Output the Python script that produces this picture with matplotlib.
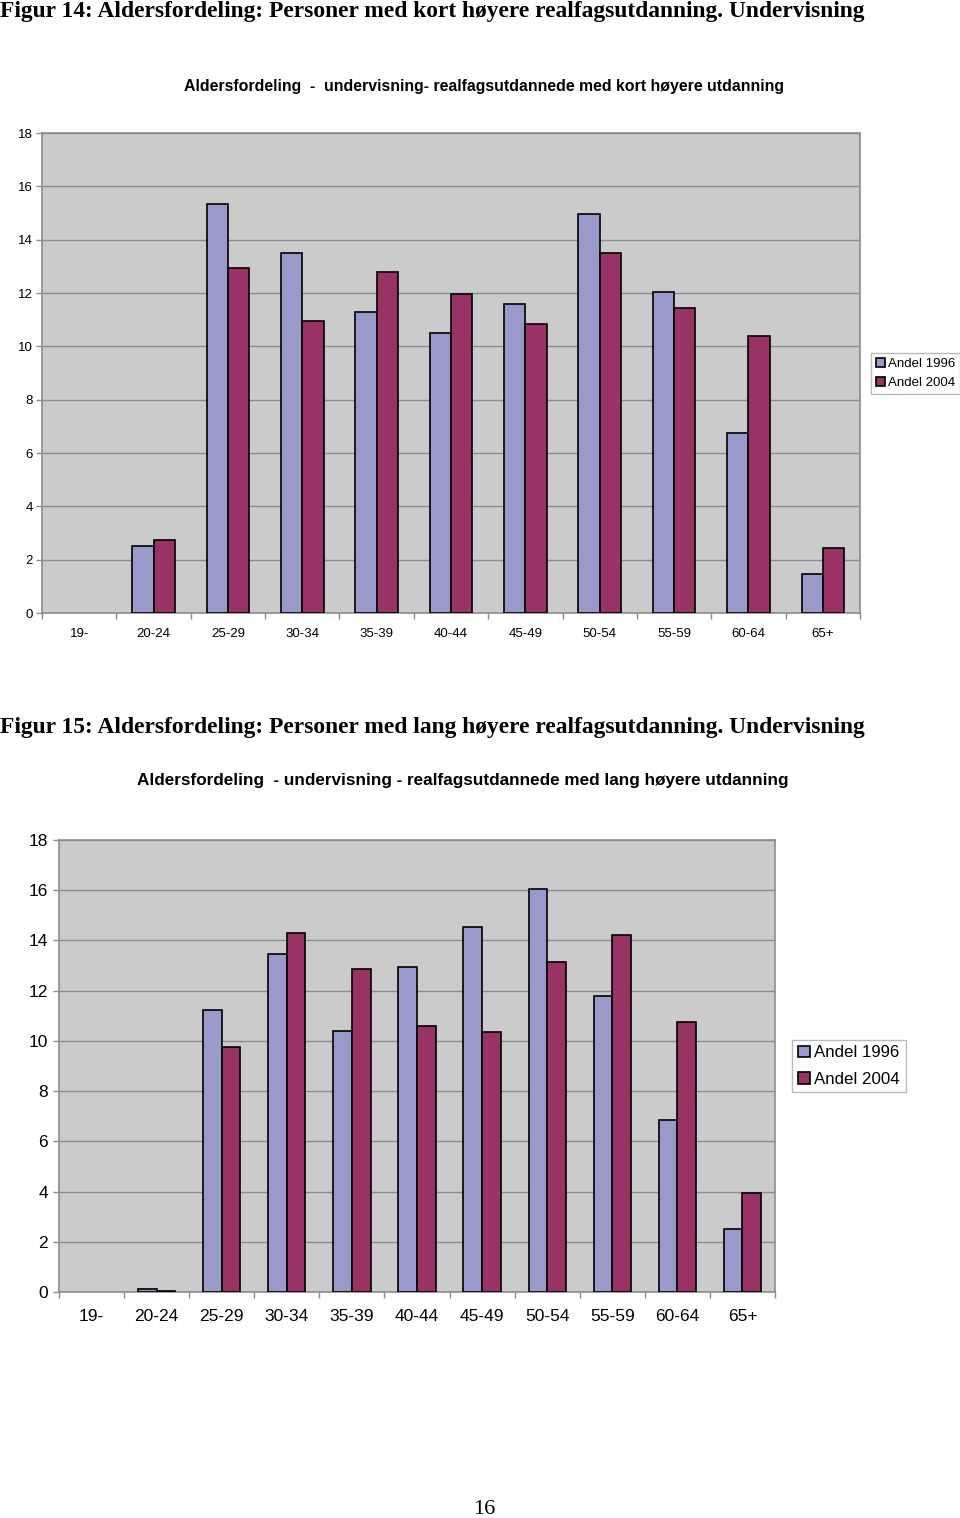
import matplotlib
matplotlib.use("Agg")
import matplotlib.pyplot as plt
from matplotlib.patches import Patch
import numpy as np

categories = ["19-", "20-24", "25-29", "30-34", "35-39", "40-44", "45-49", "50-54", "55-59", "60-64", "65+"]

kort_1996 = [0, 2.5, 15.35, 13.5, 11.3, 10.5, 11.6, 14.95, 12.05, 6.75, 1.45]
kort_2004 = [0, 2.75, 12.95, 10.95, 12.8, 11.95, 10.85, 13.5, 11.45, 10.4, 2.45]

lang_1996 = [0, 0.1, 11.25, 13.45, 10.4, 12.95, 14.55, 16.05, 11.8, 6.85, 2.5]
lang_2004 = [0, 0.05, 9.75, 14.3, 12.85, 10.6, 10.35, 13.15, 14.2, 10.75, 3.95]

series_labels = ["Andel 1996", "Andel 2004"]
yticks = [0, 2, 4, 6, 8, 10, 12, 14, 16, 18]

C1996 = "#9999CC"
C2004 = "#993366"
BG = "#CBCBCB"
GRID = "#8C8C8C"

W, H = 960, 1518
fig = plt.figure(figsize=(W / 100, H / 100), dpi=100)

SANS = "Liberation Sans"
SERIF = "Liberation Serif"


def fx(px):
    return px / W


def fy(py):
    return 1 - py / H


def draw_chart(rect, v1, v2, tick_fs, xpad, ypad, legend_anchor, legend_fs, lspace):
    ax = fig.add_axes(rect)
    x = np.arange(len(categories))
    bw = 1 / 3.5
    lw1 = [0 if v == 0 else 1.2 for v in v1]
    lw2 = [0 if v == 0 else 1.2 for v in v2]
    ax.bar(x - bw / 2, v1, width=bw, color=C1996, edgecolor="black", linewidth=lw1, zorder=3)
    ax.bar(x + bw / 2, v2, width=bw, color=C2004, edgecolor="black", linewidth=lw2, zorder=3)
    ax.set_xlim(-0.5, len(categories) - 0.5)
    ax.set_ylim(0, 18)
    ax.set_facecolor(BG)
    ax.set_yticks(yticks)
    ax.set_yticklabels([str(t) for t in yticks], fontsize=tick_fs, family=SANS)
    ax.yaxis.grid(True, color=GRID, linewidth=1.0, zorder=1)
    ax.set_axisbelow(True)
    ax.set_xticks(x)
    ax.set_xticklabels(categories, fontsize=tick_fs, family=SANS)
    ax.set_xticks(np.arange(-0.5, len(categories)), minor=True)
    ax.tick_params(axis="x", which="major", length=0, pad=xpad)
    ax.tick_params(axis="x", which="minor", length=4, color=GRID, width=1)
    ax.tick_params(axis="y", length=4, color=GRID, width=1, pad=ypad)
    for s in ax.spines.values():
        s.set_color(GRID)
        s.set_linewidth(1.2)
    handles = [Patch(facecolor=C1996, edgecolor="black", linewidth=1.2, label=series_labels[0]),
               Patch(facecolor=C2004, edgecolor="black", linewidth=1.2, label=series_labels[1])]
    leg = ax.legend(handles=handles, loc="center left", bbox_to_anchor=legend_anchor,
                    bbox_transform=fig.transFigure, fancybox=False,
                    edgecolor="#BBBBBB", framealpha=1, borderaxespad=0,
                    prop={"family": SANS, "size": legend_fs},
                    handlelength=0.7, handleheight=0.7, handletextpad=0.25,
                    borderpad=0.35, labelspacing=lspace)
    leg.get_frame().set_linewidth(1.0)
    return ax


# Chart 1
draw_chart([fx(42), fy(613), fx(860 - 42), (613 - 133) / H],
           kort_1996, kort_2004, 9.5, 10.5, 2.5, (fx(871), fy(373.5)), 9.5, 0.55)

# Chart 2
draw_chart([fx(59), fy(1292), fx(775 - 59), (1292 - 840) / H],
           lang_1996, lang_2004, 12.5, 12.5, 4, (fx(792), fy(1066)), 12.2, 0.65)

fig.text(0, fy(11), "Figur 14: Aldersfordeling: Personer med kort høyere realfagsutdanning. Undervisning",
         family=SERIF, weight="bold", fontsize=16.95, ha="left", va="center")
fig.text(fx(484), fy(86), "Aldersfordeling  -  undervisning- realfagsutdannede med kort høyere utdanning",
         family=SANS, weight="bold", fontsize=11.45, ha="center", va="center")

fig.text(0, fy(727), "Figur 15: Aldersfordeling: Personer med lang høyere realfagsutdanning. Undervisning",
         family=SERIF, weight="bold", fontsize=16.95, ha="left", va="center")
fig.text(fx(463), fy(781), "Aldersfordeling  - undervisning - realfagsutdannede med lang høyere utdanning",
         family=SANS, weight="bold", fontsize=12.3, ha="center", va="center")

fig.text(fx(484), fy(1509), "16", family=SERIF, fontsize=16, ha="center", va="center")

fig.savefig("out.png", dpi=100, facecolor="white")
